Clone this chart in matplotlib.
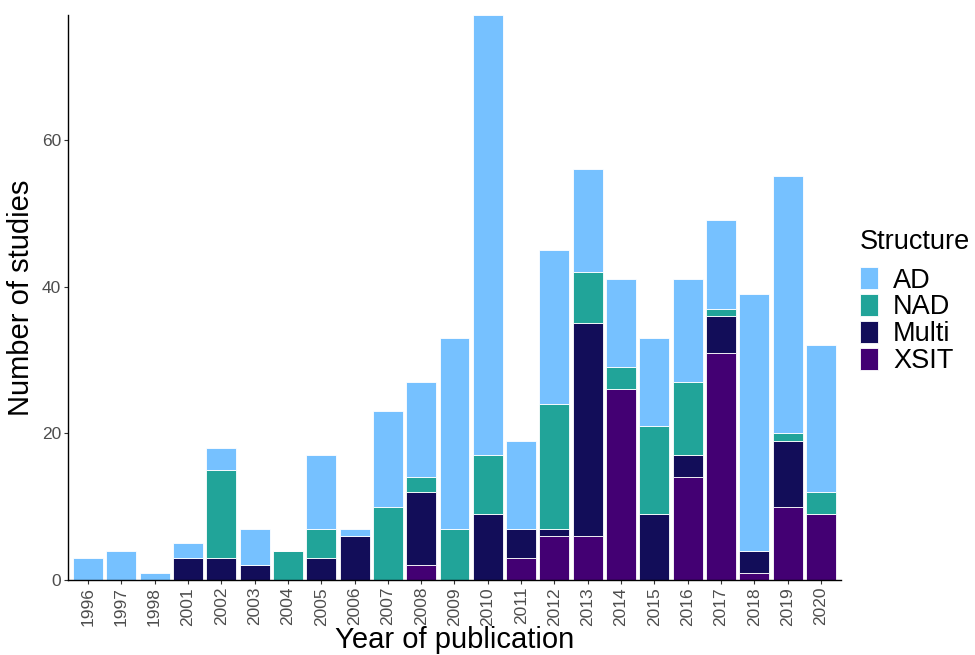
import numpy as np
import matplotlib
matplotlib.use("Agg")
import matplotlib.pyplot as plt

plt.rcParams['font.family'] = ['Liberation Sans', 'DejaVu Sans']

years = ['1996', '1997', '1998', '2001', '2002', '2003', '2004', '2005', '2006',
         '2007', '2008', '2009', '2010', '2011', '2012', '2013', '2014', '2015',
         '2016', '2017', '2018', '2019', '2020']

# counts per structure type, stacked bottom to top: XSIT, Multi, NAD, AD
xsit = [0, 0, 0, 0, 0, 0, 0, 0, 0, 0, 2, 0, 0, 3, 6, 6, 26, 0, 14, 31, 1, 10, 9]
multi = [0, 0, 0, 3, 3, 2, 0, 3, 6, 0, 10, 0, 9, 4, 1, 29, 0, 9, 3, 5, 3, 9, 0]
nad = [0, 0, 0, 0, 12, 0, 4, 4, 0, 10, 2, 7, 8, 0, 17, 7, 3, 12, 10, 1, 0, 1, 3]
ad = [3, 4, 1, 2, 3, 5, 0, 10, 1, 13, 13, 26, 60, 12, 21, 14, 12, 12, 14, 12, 35, 35, 20]

colors = {'AD': '#76C1FF', 'NAD': '#21A499', 'Multi': '#120D59', 'XSIT': '#430073'}

fig = plt.figure(figsize=(9.75, 6.55), dpi=100)
ax = fig.add_axes([0.0697, 0.1145, 0.7929, 0.8625])

x = np.arange(len(years))
bottom = np.zeros(len(years))
handles = {}
for name, vals in [('XSIT', xsit), ('Multi', multi), ('NAD', nad), ('AD', ad)]:
    vals = np.array(vals)
    b = ax.bar(x, vals, bottom=bottom, width=0.9, color=colors[name],
               edgecolor='white', linewidth=0.6)
    handles[name] = b
    bottom += vals

ax.set_xlim(-0.6, len(years) - 0.4)
ax.set_ylim(0, 77)
ax.set_yticks([0, 20, 40, 60])
ax.set_xticks(x)
ax.set_xticklabels(years, rotation=90)
ax.tick_params(axis='both', labelsize=12.5, labelcolor='#4D4D4D', color='#333333',
               length=3, width=0.8, pad=2)

for side in ['top', 'right']:
    ax.spines[side].set_visible(False)
for side in ['left', 'bottom']:
    ax.spines[side].set_linewidth(1.0)
    ax.spines[side].set_color('black')

ax.set_xlabel('Year of publication', fontsize=21, labelpad=0)
ax.set_ylabel('Number of studies', fontsize=21, labelpad=5)

order = ['AD', 'NAD', 'Multi', 'XSIT']
leg = fig.legend([handles[k] for k in order], order, title='Structure',
                 loc='upper left', bbox_to_anchor=(0.882, 0.651),
                 frameon=False, fontsize=19.5, title_fontsize=19.5,
                 handlelength=0.67, handleheight=0.88, handletextpad=0.55,
                 labelspacing=0.02, borderaxespad=0, borderpad=0)
leg._legend_box.align = 'left'
leg._legend_box.sep = 9  # more room under the title

plt.savefig('out.png', dpi=100)
plt.close()
